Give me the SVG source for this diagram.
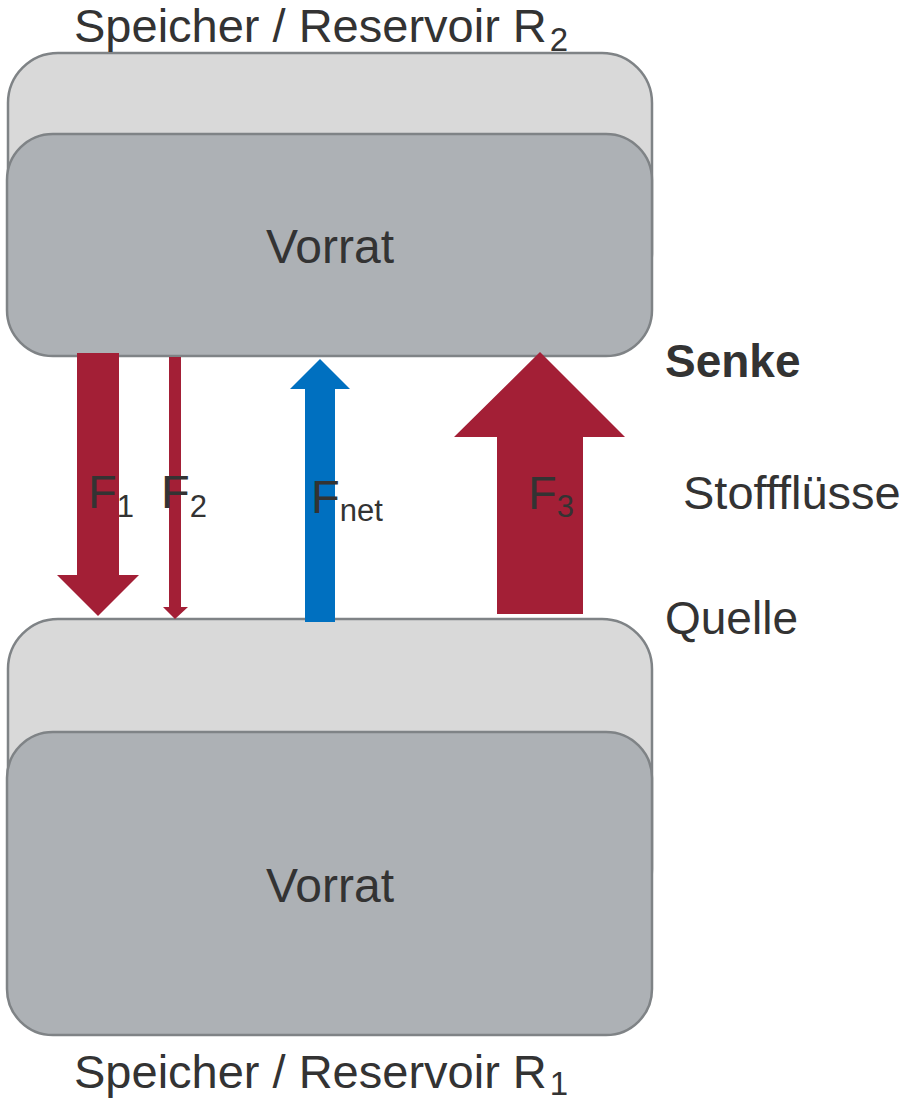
<svg xmlns="http://www.w3.org/2000/svg" width="907" height="1100" viewBox="0 0 907 1100">
  <style>
    .outer { fill: #d9d9d9; stroke: #7f8386; stroke-width: 2.5; }
    .inner { fill: #adb1b5; stroke: #7f8386; stroke-width: 2.5; }
    .lbl { font-family: "Liberation Sans", Arial, sans-serif; fill: #333333; }
    .big { font-size: 47px; }
    .sub { font-size: 31px; }
    .rsub { font-size: 33px; }
    .red { fill: #a31f36; }
    .blue { fill: #0070c0; }
  </style>

  <!-- upper reservoir -->
  <g id="reservoir-r2">
    <rect class="outer" x="8" y="53" width="644" height="250" rx="50" ry="50"/>
    <rect class="inner" x="7" y="134" width="645" height="222" rx="46" ry="46"/>
    <text class="lbl" x="330" y="263" text-anchor="middle" font-size="48">Vorrat</text>
    <text class="lbl big" x="74" y="42">Speicher / Reservoir R<tspan class="rsub" dx="3" dy="9">2</tspan></text>
  </g>

  <!-- lower reservoir -->
  <g id="reservoir-r1">
    <rect class="outer" x="8" y="619" width="644" height="300" rx="50" ry="50"/>
    <rect class="inner" x="7" y="732" width="645" height="303" rx="46" ry="46"/>
    <text class="lbl" x="330" y="902" text-anchor="middle" font-size="48">Vorrat</text>
    <text class="lbl big" x="74" y="1088">Speicher / Reservoir R<tspan class="rsub" dx="3" dy="7">1</tspan></text>
  </g>

  <!-- flux arrows -->
  <g id="connectors">
    <polygon id="f1" class="red" points="77,353 119,353 119,575 139,575 98,616 57,575 77,575"/>
    <polygon id="f2" class="red" points="169,357 181,357 181,607 188,607 175,619 163,607 169,607"/>
    <polygon id="fnet" class="blue" points="305,622 335,622 335,389 350,389 320,359 290,389 305,389"/>
    <polygon id="f3" class="red" points="497,614 583,614 583,437 625,437 540,352 454,437 497,437"/>
  </g>

  <!-- flux labels -->
  <g id="labels">
    <text class="lbl big" x="88" y="508">F<tspan class="sub" dy="9">1</tspan></text>
    <text class="lbl big" x="161" y="508">F<tspan class="sub" dy="9">2</tspan></text>
    <text class="lbl big" x="311" y="513">F<tspan class="sub" dy="8">net</tspan></text>
    <text class="lbl big" x="528" y="509">F<tspan class="sub" dy="8">3</tspan></text>
    <text class="lbl" x="665" y="377" font-weight="bold" font-size="46">Senke</text>
    <text class="lbl" x="683" y="509" font-size="47">Stoffflüsse</text>
    <text class="lbl" x="665" y="634" font-size="46">Quelle</text>
  </g>
</svg>
